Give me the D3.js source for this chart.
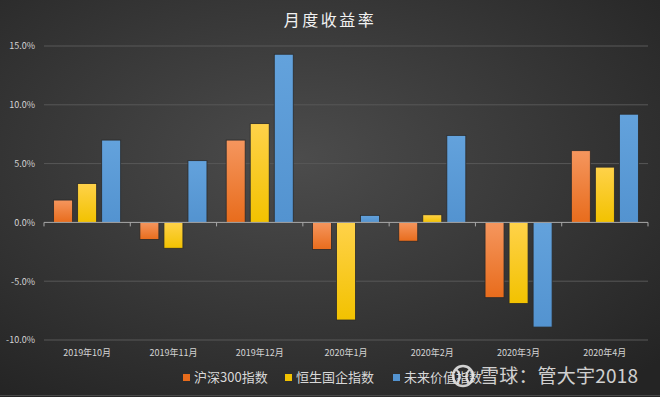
<!DOCTYPE html>
<meta charset="utf-8">
<style>
html,body{
  margin:0;
  background:#2a2a2a;
}
svg text{
  font-family: "Noto Sans CJK SC", "Noto Sans", sans-serif;
}
</style>
<script src="https://d3js.org/d3.v7.min.js"></script>
<body>
<script>

var months = ["2019年10月","2019年11月","2019年12月","2020年1月","2020年2月","2020年3月","2020年4月"];
var seriesNames = ["沪深300指数","恒生国企指数","未来价值指数"];
var hs300 = [1.9, -1.45, 7.0, -2.3, -1.6, -6.4, 6.1];
var hscei = [3.3, -2.2, 8.4, -8.3, 0.65, -6.9, 4.7];
var future = [7.0, 5.25, 14.3, 0.6, 7.4, -8.9, 9.2];
var yTicks = [-10, -5, 0, 5, 10, 15];

var allSeries = [hs300, hscei, future];
var colors = [["#f5965e","#e86c1c"],["#ffd24a","#f2c200"],["#63a2dc","#5393d0"]];

var width = 660, height = 397;
var margin = {top: 46, left: 44, right: 12, bottom: 57};

var svg = d3.select("body").append("svg")
    .attr("width", width)
    .attr("height", height);

var defs = svg.append("defs");
var bg = defs.append("radialGradient")
    .attr("id", "bg")
    .attr("cx", "45%").attr("cy", "40%").attr("r", "75%");
bg.append("stop").attr("offset", "0%").attr("stop-color", "#4c4c4c");
bg.append("stop").attr("offset", "100%").attr("stop-color", "#242424");

colors.forEach(function(c, i){
  var g = defs.append("linearGradient")
      .attr("id", "bar" + i)
      .attr("x1", 0).attr("y1", 0).attr("x2", 0).attr("y2", 1);
  g.append("stop").attr("offset", "0%").attr("stop-color", c[0]);
  g.append("stop").attr("offset", "100%").attr("stop-color", c[1]);
});

svg.append("rect")
    .attr("width", width)
    .attr("height", height)
    .attr("fill", "url(#bg)");

// thin lighter strip at the very bottom
svg.append("line")
    .attr("x1", 0).attr("x2", width)
    .attr("y1", 395.5).attr("y2", 395.5)
    .attr("stroke", "#484848");

var x = d3.scaleBand()
    .domain(months)
    .range([margin.left, width - margin.right]);

var x1 = d3.scaleBand()
    .domain(d3.range(3))
    .range([0, x.bandwidth()])
    .paddingInner(0.21)
    .paddingOuter(0.4);

var y = d3.scaleLinear()
    .domain([-10, 15])
    .range([height - margin.bottom, margin.top]);

// gridlines
svg.append("g")
  .selectAll("line")
  .data(yTicks.filter(function(d){ return d != 0; }))
  .enter().append("line")
    .attr("x1", margin.left)
    .attr("x2", width - margin.right)
    .attr("y1", function(d){ return y(d); })
    .attr("y2", function(d){ return y(d); })
    .attr("stroke", "#585858")
    .attr("stroke-width", 1);

// y labels
var yAxis = svg.append("g")
    .attr("transform", "translate(" + margin.left + ",0)")
    .call(d3.axisLeft(y).tickValues(yTicks).tickSize(0).tickPadding(9)
      .tickFormat(function(d){ return d.toFixed(1) + "%"; }));
yAxis.select(".domain").remove();
yAxis.selectAll("text")
    .attr("fill", "#d4d4d4")
    .style("font-size", "9px");

// bars
var groups = svg.append("g")
  .selectAll("g")
  .data(months)
  .enter().append("g")
    .attr("transform", function(d){ return "translate(" + x(d) + ",0)"; });

groups.selectAll("rect")
  .data(function(d, i){ return allSeries.map(function(s, k){ return {k: k, v: s[i]}; }); })
  .enter().append("rect")
    .attr("x", function(d){ return x1(d.k); })
    .attr("width", x1.bandwidth())
    .attr("y", function(d){ return y(Math.max(0, d.v)); })
    .attr("height", function(d){ return Math.abs(y(d.v) - y(0)); })
    .attr("fill", function(d){ return "url(#bar" + d.k + ")"; })
    .attr("stroke", "#2a2a2a")
    .attr("stroke-width", 0.8);

// zero axis with ticks
var xAxis = svg.append("g")
    .attr("transform", "translate(0," + y(0) + ")");
xAxis.append("line")
    .attr("x1", margin.left)
    .attr("x2", width - margin.right)
    .attr("stroke", "#a8a8a8")
    .attr("stroke-width", 1);
xAxis.selectAll(".tk")
  .data(months.concat(["end"]))
  .enter().append("line")
    .attr("class", "tk")
    .attr("x1", function(d){ return d == "end" ? width - margin.right : x(d); })
    .attr("x2", function(d){ return d == "end" ? width - margin.right : x(d); })
    .attr("y1", 0)
    .attr("y2", 4)
    .attr("stroke", "#a8a8a8");

// x labels
svg.append("g")
  .selectAll("text")
  .data(months)
  .enter().append("text")
    .attr("x", function(d){ return x(d) + x.bandwidth() / 2; })
    .attr("y", 356)
    .attr("text-anchor", "middle")
    .attr("fill", "#d4d4d4")
    .style("font-size", "9px")
    .text(function(d){ return d; });

// title
svg.append("text")
    .attr("x", 330)
    .attr("y", 26)
    .attr("text-anchor", "middle")
    .attr("fill", "#f2f2f2")
    .style("font-size", "16px")
    .style("letter-spacing", "2.5px")
    .text("月度收益率");

// legend
var legendX = [183, 285, 393];
var legend = svg.append("g")
  .selectAll("g")
  .data(seriesNames)
  .enter().append("g")
    .attr("transform", function(d, i){ return "translate(" + legendX[i] + ",372)"; });
legend.append("rect")
    .attr("y", 2)
    .attr("width", 7)
    .attr("height", 7)
    .attr("fill", function(d, i){ return colors[i][1]; });
legend.append("text")
    .attr("x", 11)
    .attr("y", 10)
    .attr("fill", "#d8d8d8")
    .style("font-size", "13px")
    .text(function(d){ return d; });

// watermark
var wm = svg.append("g").attr("opacity", 0.88);
wm.append("circle")
    .attr("cx", 463)
    .attr("cy", 376)
    .attr("r", 10)
    .attr("fill", "none")
    .attr("stroke", "#e8e8e8")
    .attr("stroke-width", 2.5);
wm.append("path")
    .attr("d", "M456,369 Q463,376 457,383 M470,369 Q463,376 469,383")
    .attr("fill", "none")
    .attr("stroke", "#e8e8e8")
    .attr("stroke-width", 2.2);
wm.append("text")
    .attr("x", 480)
    .attr("y", 383)
    .attr("fill", "#e8e8e8")
    .attr("textLength", 158)
    .style("font-size", "19px")
    .text("雪球：管大宇2018");

</script>
</body>
